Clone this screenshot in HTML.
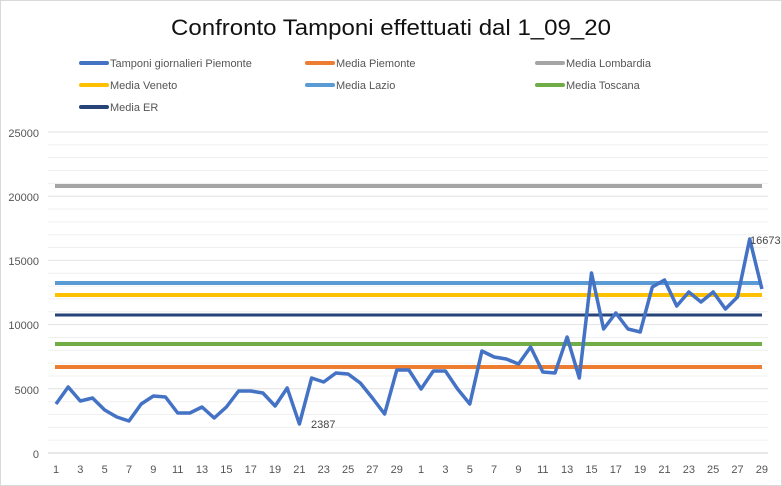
<!DOCTYPE html>
<html><head><meta charset="utf-8"><style>
body{margin:0;background:#fff}
svg{display:block;font-family:"Liberation Sans",sans-serif}
</style></head><body>
<svg width="782" height="486" xmlns="http://www.w3.org/2000/svg">
<rect x="0.5" y="0.5" width="781" height="485" fill="#fff" stroke="#d9d9d9"/>
<text x="391" y="35" text-anchor="middle" font-size="22" fill="#111" textLength="440" lengthAdjust="spacingAndGlyphs">Confronto Tamponi effettuati dal 1_09_20</text>
<g stroke-width="4" stroke-linecap="round">
<line x1="81" y1="63" x2="107" y2="63" stroke="#4472c4"/>
<line x1="307" y1="63" x2="333" y2="63" stroke="#ed7d31"/>
<line x1="537" y1="63" x2="563" y2="63" stroke="#a5a5a5"/>
<line x1="81" y1="85" x2="107" y2="85" stroke="#ffc000"/>
<line x1="307" y1="85" x2="333" y2="85" stroke="#5b9bd5"/>
<line x1="537" y1="85" x2="563" y2="85" stroke="#70ad47"/>
<line x1="81" y1="107" x2="107" y2="107" stroke="#264478"/>
</g>
<g font-size="11" fill="#555">
<text x="110" y="67">Tamponi giornalieri Piemonte</text>
<text x="336" y="67">Media Piemonte</text>
<text x="566" y="67">Media Lombardia</text>
<text x="110" y="89">Media Veneto</text>
<text x="336" y="89">Media Lazio</text>
<text x="566" y="89">Media Toscana</text>
<text x="110" y="111">Media ER</text>
</g>
<g stroke-width="1" id="grid"></g>
<g font-size="11" fill="#555" text-anchor="end">
<text x="39" y="137">25000</text>
<text x="39" y="201">20000</text>
<text x="39" y="265">15000</text>
<text x="39" y="329">10000</text>
<text x="39" y="394">5000</text>
<text x="39" y="458">0</text>
</g>
<g id="xl" font-size="11" fill="#555" text-anchor="middle"></g>
<g stroke-width="4">
<line x1="55" y1="186" x2="762" y2="186" stroke="#a5a5a5"/>
<line x1="55" y1="283" x2="762" y2="283" stroke="#5b9bd5"/>
<line x1="55" y1="295" x2="762" y2="295" stroke="#ffc000"/>
<line x1="55" y1="315" x2="762" y2="315" stroke="#264478" stroke-width="3"/>
<line x1="55" y1="344" x2="762" y2="344" stroke="#70ad47"/>
<line x1="55" y1="367" x2="762" y2="367" stroke="#ed7d31"/>
</g>
<polyline id="pl" fill="none" stroke="#4472c4" stroke-width="3.5" stroke-linejoin="round"/>
<text x="311" y="428" font-size="11" fill="#444">2387</text>
<text x="750" y="244" font-size="11" fill="#444">16673</text>
</svg>
<script>
var ys=[404,387,401,398,410,417,421,404,396,397,413,413,407,418,407,391,391,393,406,388,424,378,382,373,374,383,398,414,370,370,
389,371,371,389,404,351,357,359,364,347,372,373,337,378,273,329,313,329,332,287,280,306,292,302,292,309,297,239,289];
var pts=ys.map(function(y,i){return (56+i*12.17).toFixed(1)+","+y}).join(" ");
document.getElementById("pl").setAttribute("points",pts);
var ns="http://www.w3.org/2000/svg",g=document.getElementById("grid");
for(var k=0;k<=25;k++){var y=453-k*12.84;var l=document.createElementNS(ns,"line");
l.setAttribute("x1",48);l.setAttribute("x2",768);l.setAttribute("y1",y);l.setAttribute("y2",y);
l.setAttribute("stroke",k==0?"#d0d0d0":(k%5==0?"#e2e2e2":"#f0f0f0"));g.appendChild(l);}
var xl=document.getElementById("xl");
for(var i=0;i<59;i++){var d=i<30?i+1:i-29;if(d%2==0)continue;
var t=document.createElementNS(ns,"text");t.setAttribute("x",56+i*12.17);t.setAttribute("y",473);t.textContent=d;xl.appendChild(t);}
</script>
</body></html>
